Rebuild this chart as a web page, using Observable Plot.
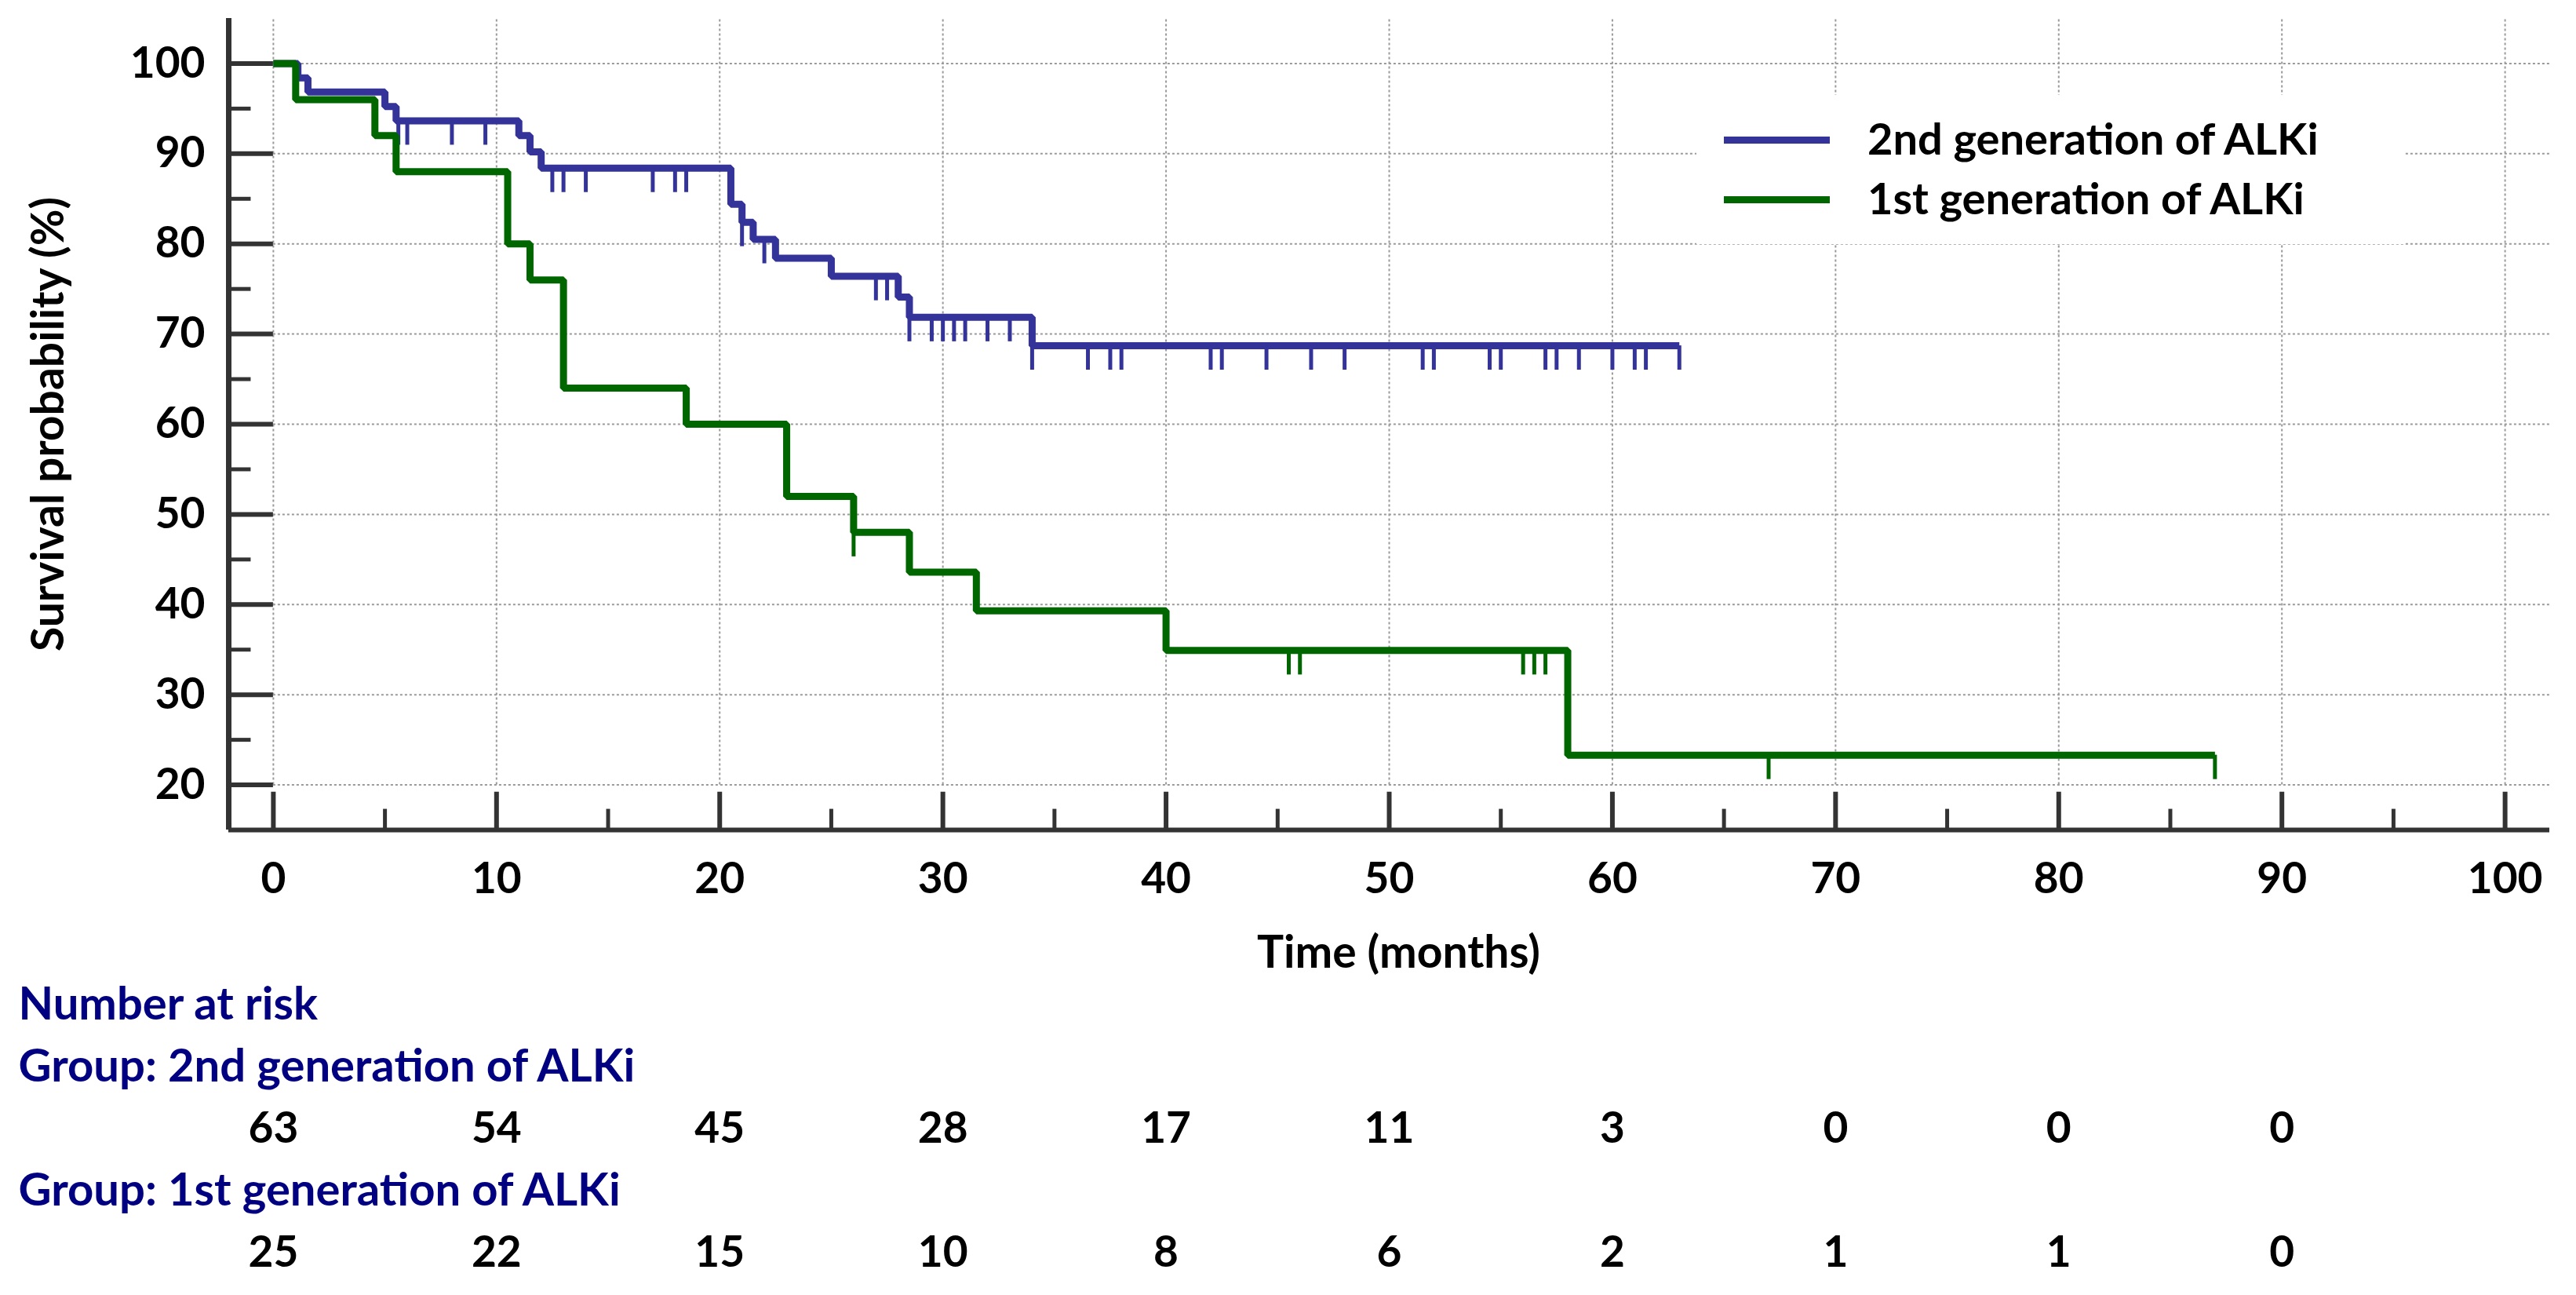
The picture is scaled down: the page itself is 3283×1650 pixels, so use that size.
<!DOCTYPE html>
<html>
<head>
<meta charset="utf-8">
<script src="https://cdn.jsdelivr.net/npm/d3@7"></script>
<script src="https://cdn.jsdelivr.net/npm/@observablehq/plot@0.6"></script>
<style>
  html, body { margin: 0; padding: 0; background: #fff; overflow: hidden; }
  #wrap { position: relative; width: 3283px; height: 1650px; background: #fff; font-family: Lato, "Open Sans", sans-serif; font-weight: 700; }
  #wrap svg { display: block; }
  #legend { position: absolute; left: 2162px; top: 121px; width: 902px; height: 190px; background: #fff; }
  .sw { position: absolute; left: 35px; width: 135px; height: 9px; }
  .lt { position: absolute; left: 218px; font-size: 56px; line-height: 56px; color: #000; white-space: nowrap; }
</style>
</head>
<body>
<div id="wrap"></div>
<script>
// ---------- data ----------
const seriesNames = ["2nd generation of ALKi", "1st generation of ALKi"];
const seriesColors = ["#333399", "#006600"];

// Kaplan-Meier steps (time in months, survival in %)
const blueTimes = [0, 1.1, 1.55, 5.0, 5.5, 11.0, 11.5, 12.0, 20.5, 21.0, 21.5, 22.5, 25.0, 28.0, 28.5, 34.0];
const blueSurv  = [100, 98.41, 96.83, 95.24, 93.65, 92.0, 90.2, 88.4, 84.4, 82.4, 80.5, 78.4, 76.4, 74.1, 71.85, 68.7];
const blueEnd = 63;
const blueCensored = [5.6, 6.0, 8.0, 9.5, 12.5, 13.0, 14.0, 17.0, 18.0, 18.5, 21.0, 22.0, 27.0, 27.5, 28.5,
  29.5, 30.0, 30.5, 31.0, 32.0, 33.0, 34.0, 36.5, 37.5, 38.0, 42.0, 42.5, 44.5, 46.5, 48.0, 51.5, 52.0,
  54.5, 55.0, 57.0, 57.5, 58.5, 60.0, 61.0, 61.5, 63.0];

const greenTimes = [0, 1.0, 4.55, 5.5, 10.5, 11.5, 13.0, 18.5, 23.0, 26.0, 28.5, 31.5, 40.0, 58.0];
const greenSurv  = [100, 96, 92, 88, 80, 76, 64, 60, 52, 48, 43.6, 39.3, 34.9, 23.3];
const greenEnd = 87;
const greenCensored = [26.0, 45.5, 46.0, 56.0, 56.5, 57.0, 67.0, 87.0];

// axes
const xDomain = [-2, 102];
const yDomain = [15, 105];
const xTicks = [0, 10, 20, 30, 40, 50, 60, 70, 80, 90, 100];
const xMinor = [5, 15, 25, 35, 45, 55, 65, 75, 85, 95];
const yTicks = [20, 30, 40, 50, 60, 70, 80, 90, 100];
const yMinor = [25, 35, 45, 55, 65, 75, 85, 95];
const xLabel = "Time (months)";
const yLabel = "Survival probability (%)";

// number at risk
const riskTitle = "Number at risk";
const riskTimes = [0, 10, 20, 30, 40, 50, 60, 70, 80, 90];
const risk2nd = [63, 54, 45, 28, 17, 11, 3, 0, 0, 0];
const risk1st = [25, 22, 15, 10, 8, 6, 2, 1, 1, 0];

// ---------- helpers ----------
function stepPoints(times, surv, end) {
  const pts = times.map((t, i) => ({t, s: surv[i]}));
  pts.push({t: end, s: surv[surv.length - 1]});
  return pts;
}
function survAt(times, surv, t) {
  let v = surv[0];
  for (let i = 0; i < times.length; i++) if (times[i] <= t) v = surv[i];
  return v;
}
const tickLen = 2.7;
const censorData = (times, surv, cens) => cens.map(t => ({t, s: survAt(times, surv, t)}));

const W = 3283, mL = 291, mR = 34;
const axisColor = "#333333";
const font = "Lato, 'Open Sans', sans-serif";

// ---------- main chart ----------
const main = Plot.plot({
  width: W, height: 1250,
  marginLeft: mL, marginRight: mR, marginTop: 23, marginBottom: 193,
  style: {fontFamily: font, fontWeight: 700, color: "#000", background: "#fff", overflow: "visible"},
  x: {domain: xDomain},
  y: {domain: yDomain},
  marks: [
    // grid
    Plot.ruleY(yTicks, {x1: xTicks[0], x2: xDomain[1], stroke: "#9a9a9a", strokeWidth: 2, strokeDasharray: "3,3"}),
    Plot.ruleX(xTicks, {y1: yTicks[0], y2: yDomain[1], stroke: "#9a9a9a", strokeWidth: 2, strokeDasharray: "3,3"}),
    // axes lines and ticks
    Plot.ruleX([xDomain[0]], {y1: yDomain[0], y2: yDomain[1], stroke: axisColor, strokeWidth: 7}),
    Plot.ruleY([yDomain[0]], {x1: xDomain[0], x2: xDomain[1], stroke: axisColor, strokeWidth: 6}),
    Plot.ruleY(yTicks, {x1: xDomain[0], x2: xTicks[0], stroke: axisColor, strokeWidth: 6}),
    Plot.ruleY(yMinor, {x1: xDomain[0], x2: xDomain[0] + 1, stroke: axisColor, strokeWidth: 5}),
    Plot.ruleX(xTicks, {y1: yDomain[0], y2: yDomain[0] + 4.2, stroke: axisColor, strokeWidth: 6}),
    Plot.ruleX(xMinor, {y1: yDomain[0], y2: yDomain[0] + 2.3, stroke: axisColor, strokeWidth: 5}),
    Plot.axisY({ticks: yTicks, tickSize: 0, tickPadding: 30, fontSize: 55, label: null, fill: "#000"}),
    Plot.axisX({ticks: xTicks, tickSize: 0, tickPadding: 41, fontSize: 55, label: null, fill: "#000"}),
    Plot.text([xLabel], {frameAnchor: "bottom", dy: 135, dx: 12, lineAnchor: "top", fontSize: 57, fill: "#000"}),
    Plot.text([yLabel], {frameAnchor: "left", textAnchor: "middle", lineAnchor: "middle", rotate: -90, dx: -(mL - 62), fontSize: 57, fill: "#000"}),
    // survival curves
    Plot.line(stepPoints(blueTimes, blueSurv, blueEnd), {x: "t", y: "s", curve: "step-after", stroke: seriesColors[0], strokeWidth: 9, strokeLinejoin: "miter", strokeLinecap: "butt"}),
    Plot.ruleX(censorData(blueTimes, blueSurv, blueCensored), {x: "t", y1: "s", y2: d => d.s - tickLen, stroke: seriesColors[0], strokeWidth: 5}),
    Plot.line(stepPoints(greenTimes, greenSurv, greenEnd), {x: "t", y: "s", curve: "step-after", stroke: seriesColors[1], strokeWidth: 9, strokeLinejoin: "miter", strokeLinecap: "butt"}),
    Plot.ruleX(censorData(greenTimes, greenSurv, greenCensored), {x: "t", y1: "s", y2: d => d.s - tickLen, stroke: seriesColors[1], strokeWidth: 5})
  ]
});

// ---------- number at risk table ----------
const rows = ["title", "g2", "n2", "g1", "n1"];
const headers = [
  {row: "title", label: riskTitle},
  {row: "g2", label: "Group: " + seriesNames[0]},
  {row: "g1", label: "Group: " + seriesNames[1]}
];
const riskData = [
  ...riskTimes.map((t, i) => ({t, row: "n2", n: risk2nd[i]})),
  ...riskTimes.map((t, i) => ({t, row: "n1", n: risk1st[i]}))
];
const table = Plot.plot({
  width: W, height: 400,
  marginLeft: mL, marginRight: mR, marginTop: 29, marginBottom: 54,
  style: {fontFamily: font, fontWeight: 700, color: "#000", background: "#fff", overflow: "visible"},
  x: {domain: xDomain, axis: null},
  y: {type: "point", domain: rows, padding: 0, axis: null},
  marks: [
    Plot.text(headers, {y: "row", text: "label", frameAnchor: "left", textAnchor: "start", dx: -(mL - 23), fontSize: 58, fill: "#000080"}),
    Plot.text(riskData, {x: "t", y: "row", text: "n", fontSize: 55, fill: "#000"})
  ]
});

const wrap = document.getElementById("wrap");
wrap.appendChild(main);
wrap.appendChild(table);

// legend (HTML, above the plot area)
const legend = document.createElement("div");
legend.id = "legend";
seriesNames.forEach((name, i) => {
  const sw = document.createElement("div");
  sw.className = "sw";
  sw.style.top = (52.5 + i * 76) + "px";
  sw.style.background = seriesColors[i];
  const lt = document.createElement("div");
  lt.className = "lt";
  lt.style.top = (27 + i * 76) + "px";
  lt.textContent = name;
  legend.appendChild(sw);
  legend.appendChild(lt);
});
wrap.appendChild(legend);
</script>
</body>
</html>
